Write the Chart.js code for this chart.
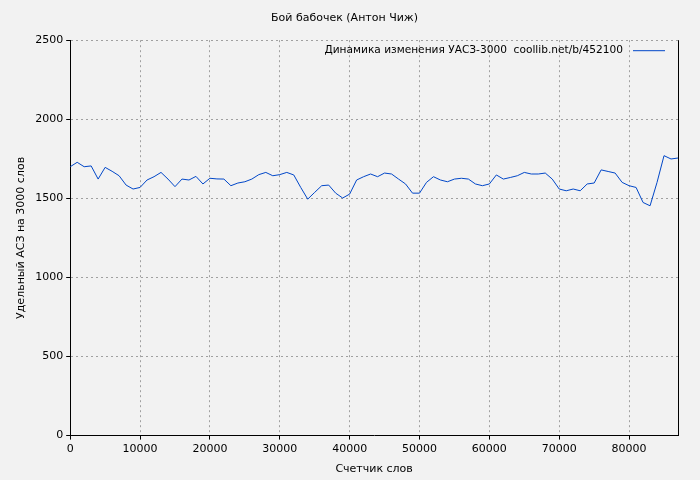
<!DOCTYPE html>
<html>
<head>
<meta charset="utf-8">
<script src="https://cdn.jsdelivr.net/npm/chart.js@4"></script>
<style>
  html, body { margin: 0; padding: 0; background: #f2f2f2; }
  #wrap { width: 700px; height: 480px; }
</style>
</head>
<body>
<div id="wrap"><canvas id="chart" width="700" height="480"></canvas></div>
<script>
// Данные
const words = [];
for (let i = 0; i <= 87; i++) words.push(i * 1000);
const values = [1700, 1728, 1700, 1705, 1622, 1696, 1671, 1643, 1584, 1559,
    1569, 1616, 1637, 1664, 1622, 1574, 1622, 1616, 1639, 1591,
    1627, 1623, 1622, 1580, 1597, 1605, 1622, 1650, 1664, 1643,
    1650, 1664, 1648, 1569, 1495, 1538, 1580, 1584, 1533, 1502,
    1527, 1616, 1637, 1654, 1637, 1660, 1654, 1622, 1591, 1533,
    1533, 1601, 1637, 1616, 1605, 1622, 1627, 1622, 1591, 1580,
    1591, 1648, 1622, 1632, 1643, 1664, 1654, 1654, 1660, 1622,
    1559, 1548, 1559, 1548, 1591, 1597, 1680, 1670, 1660, 1601,
    1580, 1569, 1474, 1453, 1601, 1770, 1749, 1755];
const xTicks = [0, 10000, 20000, 30000, 40000, 50000, 60000, 70000, 80000];
const yTicks = [0, 500, 1000, 1500, 2000, 2500];

const FONT = 'DejaVu Sans';

// Легенда внутри области графика
const legendInside = {
    id: 'legendInside',
    afterDraw(chart) {
        const { ctx, chartArea } = chart;
        const ds = chart.data.datasets[0];
        ctx.save();
        ctx.font = '10.6px ' + FONT;
        ctx.fillStyle = '#000';
        ctx.textAlign = 'right';
        ctx.textBaseline = 'middle';
        const y = chartArea.top + 10;
        const lineEnd = chartArea.right - 13;
        const lineStart = lineEnd - 32;
        ctx.fillText(ds.label, lineStart - 10, y);
        ctx.strokeStyle = ds.borderColor;
        ctx.lineWidth = 1;
        ctx.beginPath();
        ctx.moveTo(lineStart, y + 0.5);
        ctx.lineTo(lineEnd, y + 0.5);
        ctx.stroke();
        // правая граница
        ctx.strokeStyle = '#000';
        ctx.beginPath();
        ctx.moveTo(chartArea.right + 0.5, chartArea.top);
        ctx.lineTo(chartArea.right + 0.5, chartArea.bottom);
        ctx.stroke();
        ctx.restore();
    }
};

const gridOpts = { color: '#a0a0a0', tickColor: '#000', tickLength: 4 };
const tickFont = { family: FONT, size: 11 };

const ctx = document.getElementById('chart').getContext('2d');
new Chart(ctx, {
    type: 'line',
    data: {
        datasets: [{
            label: 'Динамика изменения УАСЗ-3000  coollib.net/b/452100',
            data: words.map((w, i) => ({ x: w, y: values[i] })),
            borderColor: '#0047c8',
            borderWidth: 1,
            pointRadius: 0,
            tension: 0,
            fill: false
        }]
    },
    options: {
        responsive: false,
        animation: false,
        layout: { padding: { left: 11, right: 22, top: 5, bottom: 0 } },
        plugins: {
            legend: { display: false },
            tooltip: { enabled: false },
            title: {
                display: true,
                text: 'Бой бабочек (Антон Чиж)',
                color: '#000',
                font: { family: FONT, size: 11, weight: 'normal' },
                padding: { top: 7, bottom: 15 }
            }
        },
        scales: {
            x: {
                type: 'linear',
                min: 0,
                max: 87000,
                border: { color: '#000', dash: [2, 3] },
                afterBuildTicks: axis => { axis.ticks = xTicks.map(v => ({ value: v })); },
                grid: gridOpts,
                ticks: { color: '#000', font: tickFont, maxRotation: 0, callback: v => String(v) },
                title: { display: true, text: 'Счетчик слов', color: '#000', font: { family: FONT, size: 11 }, padding: { top: 4 } }
            },
            y: {
                min: 0,
                max: 2500,
                border: { color: '#000', dash: [2, 3] },
                afterBuildTicks: axis => { axis.ticks = yTicks.map(v => ({ value: v })); },
                grid: gridOpts,
                ticks: { color: '#000', font: tickFont, callback: v => String(v) },
                title: { display: true, text: 'Удельный АСЗ на 3000 слов', color: '#000', font: { family: FONT, size: 11 } }
            }
        }
    },
    plugins: [legendInside]
});
</script>
</body>
</html>
